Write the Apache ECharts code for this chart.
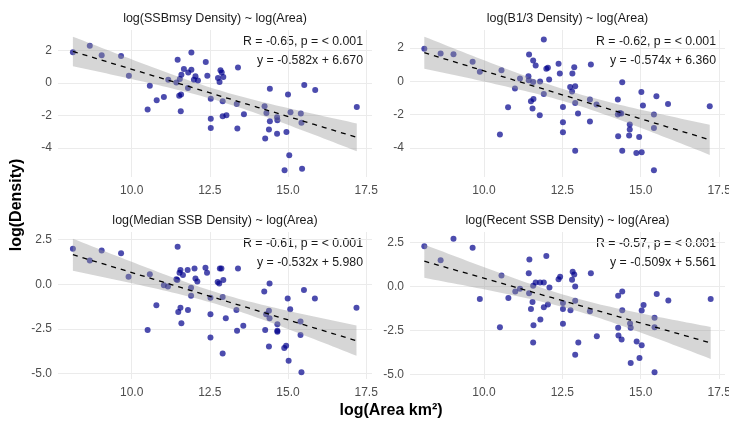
<!DOCTYPE html>
<html><head><meta charset="utf-8">
<script src="https://cdn.jsdelivr.net/npm/echarts@6/dist/echarts.min.js"></script>
<style>html,body{margin:0;padding:0;background:#fff}#c{width:729px;height:421px}</style>
</head><body><div id="c"></div>
<script>
// ---------- data ----------
const panelTitles = [
  'log(SSBmsy Density) ~ log(Area)',
  'log(B1/3 Density) ~ log(Area)',
  'log(Median SSB Density) ~ log(Area)',
  'log(Recent SSB Density) ~ log(Area)'
];
const rValues = ['-0.65', '-0.62', '-0.61', '-0.57'];
const slopes = [-0.582, -0.574, -0.532, -0.509];
const intercepts = [6.670, 6.360, 5.980, 5.561];

const ssbmsyPts = [
  [8.12,1.90],[8.66,2.29],[9.04,1.71],[9.66,1.67],[9.91,0.45],[10.51,-1.63],[10.58,-0.16],
  [10.80,-1.06],[11.03,-0.86],[11.17,0.20],[11.43,0.04],[11.47,1.43],[11.52,-0.78],[11.58,-0.71],
  [11.57,-1.73],[11.59,0.51],[11.54,0.24],[11.67,0.86],[11.81,0.65],[11.80,-0.31],[11.91,1.88],
  [11.91,0.82],[11.99,0.20],[12.04,0.41],[12.12,0.16],[12.37,1.29],[12.42,0.45],[12.53,-0.96],
  [12.53,-2.20],[12.53,-2.76],[12.76,0.31],[12.81,0.06],[12.84,0.78],[12.88,0.65],[12.93,0.37],
  [12.91,-1.12],[12.91,-2.04],[13.03,-1.98],[13.40,0.96],[13.36,-1.29],[13.38,-2.80],[13.59,-1.92],
  [14.25,-1.43],[14.27,-3.41],[14.31,-1.84],[14.39,-2.86],[14.42,-0.35],[14.42,-2.35],[14.65,-2.10],
  [14.66,-2.29],[14.65,-3.12],[14.89,-5.37],[14.95,-3.02],[15.00,-0.71],[15.04,-4.45],[15.08,-1.80],
  [15.41,-1.88],[15.43,-2.45],[15.45,-5.27],[15.52,-0.12],[15.87,-0.43],[17.20,-1.47]
];
const b13Pts = [
  [8.10,1.94],[8.62,1.66],[9.03,1.62],[9.64,1.16],[9.87,0.56],[10.56,0.66],[10.51,-3.20],
  [10.77,-1.56],[10.99,-0.44],[11.15,0.16],[11.44,1.60],[11.42,0.30],[11.43,0.06],[11.50,-1.20],
  [11.55,-1.64],[11.58,-1.06],[11.57,1.24],[11.65,0.94],[11.57,-0.04],[11.79,-0.02],[11.78,-2.04],
  [11.91,2.50],[11.91,-0.76],[11.99,0.74],[12.04,0.80],[12.08,0.10],[12.38,1.04],[12.42,0.46],
  [12.52,-1.54],[12.52,-2.46],[12.52,-3.06],[12.75,-0.34],[12.81,-0.62],[12.82,0.46],[12.88,0.84],
  [12.91,-0.30],[12.91,-1.30],[12.91,-4.16],[13.00,-1.94],[13.38,-1.10],[13.41,1.00],[13.38,-2.42],
  [13.59,-1.40],[14.27,-1.10],[14.27,-2.00],[14.28,-3.30],[14.33,-1.90],[14.41,-0.06],[14.41,-4.16],
  [14.38,-1.94],[14.65,-2.60],[14.65,-2.90],[14.63,-3.26],[14.86,-4.30],[14.95,-3.34],[15.02,-0.64],
  [15.03,-4.26],[15.07,-1.46],[15.42,-2.00],[15.42,-2.80],[15.42,-5.34],[15.50,-0.90],[15.87,-1.36],
  [17.20,-1.50]
];
const medianPts = [
  [8.12,2.00],[8.66,1.34],[9.04,1.90],[9.66,1.74],[9.90,0.43],[10.51,-2.57],[10.58,0.56],
  [10.79,-1.18],[11.03,-0.06],[11.16,-0.13],[11.43,0.28],[11.47,2.11],[11.46,0.24],[11.49,-1.55],
  [11.56,-1.31],[11.59,-2.18],[11.56,0.80],[11.53,0.65],[11.64,0.52],[11.80,-1.44],[11.79,0.80],
  [11.90,-0.19],[11.90,-0.65],[12.01,0.88],[12.04,0.32],[12.10,0.15],[12.36,0.93],[12.41,0.65],
  [12.52,-0.75],[12.52,-1.68],[12.52,-2.99],[12.75,0.13],[12.80,0.04],[12.82,0.88],[12.87,0.88],
  [12.93,0.24],[12.91,-0.71],[12.91,-3.88],[13.01,-1.90],[13.40,0.88],[13.35,-1.44],[13.37,-2.61],
  [13.57,-2.33],[14.24,-0.41],[14.27,-2.57],[14.30,-1.68],[14.39,-1.49],[14.39,-3.49],[14.41,0.04],
  [14.41,-1.90],[14.66,-2.24],[14.66,-2.61],[14.66,-2.67],[14.88,-3.58],[14.94,-3.45],[14.99,-0.80],
  [15.02,-4.29],[15.07,-1.40],[15.40,-2.09],[15.40,-2.85],[15.43,-4.94],[15.51,-0.32],[15.86,-0.80],
  [17.19,-1.31]
];
const recentPts = [
  [8.10,2.29],[8.62,1.50],[9.03,2.72],[9.64,2.20],[9.87,-0.71],[10.56,0.62],[10.51,-2.31],
  [10.78,-0.66],[11.00,-0.28],[11.15,-0.13],[11.45,1.54],[11.43,0.75],[11.44,-0.38],[11.50,-1.28],
  [11.55,-0.88],[11.58,-2.20],[11.57,-3.19],[11.57,0.04],[11.65,0.23],[11.80,-1.88],[11.79,0.23],
  [11.91,0.23],[11.91,-1.18],[11.99,1.74],[12.04,-1.03],[12.09,-0.06],[12.38,0.41],[12.43,0.56],
  [12.52,-0.94],[12.52,-1.28],[12.52,-2.12],[12.76,-1.35],[12.81,0.38],[12.83,0.84],[12.88,0.69],
  [12.91,0.00],[12.91,-0.81],[12.91,-3.88],[13.01,-3.19],[13.38,-1.41],[13.41,0.75],[13.60,-2.83],
  [14.28,-0.53],[14.28,-2.35],[14.29,-2.78],[14.41,-0.28],[14.41,-1.35],[14.39,-3.02],[14.66,-2.10],
  [14.68,-2.35],[14.68,-4.35],[14.87,-3.13],[14.96,-4.07],[15.03,-1.37],[15.03,-3.34],[15.09,-1.05],
  [15.44,-1.78],[15.44,-2.31],[15.44,-4.88],[15.51,-0.43],[15.88,-0.79],[17.23,-0.71]
];
const panelPoints = [ssbmsyPts, b13Pts, medianPts, recentPts];

const xTicks = [10, 12.5, 15, 17.5];
const yTicksTop = [-4, -2, 0, 2];
const yTicksBottom = [-5, -2.5, 0, 2.5];

// ---------- helpers ----------
const FONT = 'Liberation Sans, Arial, sans-serif';
const T_CRIT = 2.0;
function ribbon(pts, a, b) {
  const n = pts.length;
  const xs = pts.map(p => p[0]);
  const xbar = xs.reduce((s, v) => s + v, 0) / n;
  const sxx = xs.reduce((s, v) => s + (v - xbar) * (v - xbar), 0);
  const sse = pts.reduce((s, p) => { const r = p[1] - (a * p[0] + b); return s + r * r; }, 0);
  const sd = Math.sqrt(sse / (n - 2));
  const x0 = Math.min(...xs), x1 = Math.max(...xs);
  const lo = [], hi = [], fit = [];
  const N = 60;
  for (let i = 0; i <= N; i++) {
    const x = x0 + (x1 - x0) * i / N;
    const yh = a * x + b;
    const se = sd * Math.sqrt(1 / n + (x - xbar) * (x - xbar) / sxx);
    lo.push([x, yh - T_CRIT * se]);
    hi.push([x, yh + T_CRIT * se]);
    fit.push([x, yh]);
  }
  return { lo, hi, fit };
}

const allX = [].concat(...panelPoints.map(p => p.map(q => q[0])));
const gxMin = Math.min(...allX), gxMax = Math.max(...allX);
const xMin = gxMin - 0.05 * (gxMax - gxMin), xMax = gxMax + 0.05 * (gxMax - gxMin);

const grids = [
  { left: 58, top: 30, width: 314, height: 147 },
  { left: 410, top: 30, width: 315, height: 147 },
  { left: 58, top: 232, width: 314, height: 147 },
  { left: 410, top: 232, width: 315, height: 147 }
];

const xAxes = [], yAxes = [], series = [], graphics = [];
panelPoints.forEach((pts, i) => {
  const rb = ribbon(pts, slopes[i], intercepts[i]);
  const ys = pts.map(p => p[1]).concat(rb.lo.map(p => p[1]), rb.hi.map(p => p[1]));
  const ymn = Math.min(...ys), ymx = Math.max(...ys);
  const yMin = ymn - 0.05 * (ymx - ymn), yMax = ymx + 0.05 * (ymx - ymn);
  const yt = i < 2 ? yTicksTop : yTicksBottom;
  xAxes.push({
    type: 'value', gridIndex: i, min: xMin, max: xMax,
    axisLine: { show: false },
    axisTick: { show: false, customValues: xTicks },
    axisLabel: { customValues: xTicks, formatter: v => v.toFixed(1), color: '#4d4d4d', fontSize: 12, margin: 8, fontFamily: FONT },
    splitLine: { show: true, lineStyle: { color: '#ebebeb', width: 1 } }
  });
  yAxes.push({
    type: 'value', gridIndex: i, min: yMin, max: yMax,
    axisLine: { show: false },
    axisTick: { show: false, customValues: yt },
    axisLabel: { customValues: yt, formatter: v => (i < 2 ? String(v) : v.toFixed(1)), color: '#4d4d4d', fontSize: 12, margin: 6, fontFamily: FONT },
    splitLine: { show: true, lineStyle: { color: '#ebebeb', width: 1 } }
  });
  series.push({
    type: 'scatter', xAxisIndex: i, yAxisIndex: i, data: pts, symbolSize: 6, z: 2,
    itemStyle: { color: '#00008B', opacity: 0.7 }, silent: true
  });
  series.push({
    type: 'custom', xAxisIndex: i, yAxisIndex: i, data: [[rb.fit[0][0], rb.fit[0][1]]], z: 3, silent: true, clip: true,
    renderItem: (params, api) => {
      const poly = rb.hi.map(p => api.coord(p)).concat(rb.lo.slice().reverse().map(p => api.coord(p)));
      return { type: 'polygon', shape: { points: poly }, style: { fill: '#999999', opacity: 0.4 } };
    }
  });
  series.push({
    type: 'line', xAxisIndex: i, yAxisIndex: i, data: rb.fit, symbol: 'none', z: 4, silent: true,
    lineStyle: { color: '#000', width: 1.3, type: [5, 5] }
  });
  const g = grids[i];
  graphics.push({
    type: 'text', x: g.left + g.width / 2, y: g.top - 11,
    style: { text: panelTitles[i], fill: '#1a1a1a', font: '12.5px ' + FONT, textAlign: 'center', textVerticalAlign: 'middle' }
  });
  graphics.push({
    type: 'text', x: g.left + g.width - 9, y: g.top + 12,
    style: { text: 'R = ' + rValues[i] + ', p = < 0.001', fill: '#1a1a1a', font: '12.3px ' + FONT, textAlign: 'right', textVerticalAlign: 'middle' }
  });
  graphics.push({
    type: 'text', x: g.left + g.width - 9, y: g.top + 30.5,
    style: { text: 'y = ' + slopes[i].toFixed(3) + 'x + ' + intercepts[i].toFixed(3), fill: '#1a1a1a', font: '12.3px ' + FONT, textAlign: 'right', textVerticalAlign: 'middle' }
  });
});

graphics.push({
  type: 'text', x: 391, y: 411,
  style: { text: 'log(Area km²)', fill: '#000', font: 'bold 16px ' + FONT, textAlign: 'center', textVerticalAlign: 'middle' }
});
graphics.push({
  type: 'text', x: 17, y: 205, rotation: Math.PI / 2,
  style: { text: 'log(Density)', fill: '#000', font: 'bold 16px ' + FONT, textAlign: 'center', textVerticalAlign: 'middle' }
});

const chart = echarts.init(document.getElementById('c'), null, { renderer: 'canvas' });
chart.setOption({
  animation: false,
  backgroundColor: '#fff',
  grid: grids.map(g => Object.assign({ outerBoundsMode: 'none', containLabel: false }, g)),
  xAxis: xAxes, yAxis: yAxes, series: series, graphic: graphics
});
</script></body></html>
